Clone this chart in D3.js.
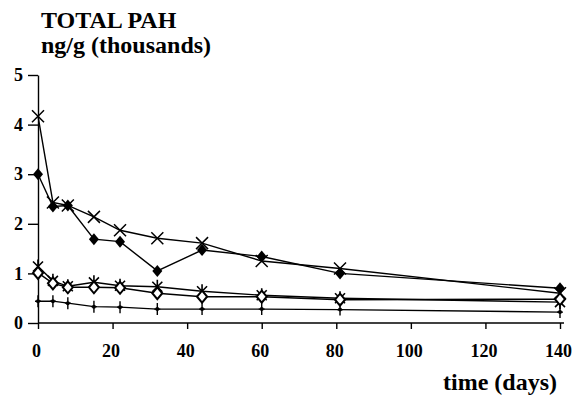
<!DOCTYPE html>
<html>
<head>
<meta charset="utf-8">
<script src="https://cdn.jsdelivr.net/npm/d3@7"></script>
<style>
  body { margin: 0; background: #fff; }
  svg text { font-family: 'Liberation Serif', 'Times New Roman', serif; font-weight: bold; fill: #000; }
</style>
</head>
<body>
<div id="chart"></div>
<script>
// sampling days
var days = [0, 4, 8, 15, 22, 32, 44, 60, 81, 140];

// total PAH, ng/g (thousands)
var crossVals    = [4.17, 2.43, 2.37, 2.14, 1.87, 1.71, 1.61, 1.25, 1.10, 0.60];
var diamondVals  = [3.00, 2.35, 2.37, 1.69, 1.64, 1.05, 1.47, 1.34, 1.00, 0.70];
var starVals     = [1.14, 0.85, 0.74, 0.82, 0.75, 0.73, 0.64, 0.56, 0.50, 0.42];
var openVals     = [1.01, 0.80, 0.72, 0.72, 0.71, 0.60, 0.53, 0.53, 0.47, 0.48];
var plusVals     = [0.44, 0.44, 0.40, 0.33, 0.32, 0.28, 0.28, 0.28, 0.27, 0.22];

var xTicks = [0, 20, 40, 60, 80, 100, 120, 140];
var yTicks = [0, 1, 2, 3, 4, 5];

const dims = { width: 575, height: 396, left: 38, right: 560, top: 75, bottom: 323 };
const serif = "'Liberation Serif', 'Times New Roman', serif";

const svg = d3.select('#chart').append('svg')
  .attr('width', dims.width)
  .attr('height', dims.height);

const x = d3.scaleLinear().domain([0, 140]).range([dims.left, dims.right]);
const y = d3.scaleLinear().domain([0, 5]).range([dims.bottom, dims.top]);

// axes
const xAxis = svg.append('g')
  .attr('transform', `translate(0,${dims.bottom})`)
  .call(d3.axisBottom(x).tickValues(xTicks).tickFormat(d3.format('d'))
    .tickSize(6).tickPadding(15).tickSizeOuter(0));
const yAxis = svg.append('g')
  .attr('transform', `translate(${dims.left},0)`)
  .call(d3.axisLeft(y).tickValues(yTicks).tickFormat(d3.format('d'))
    .tickSize(10).tickPadding(5).tickSizeOuter(0));

[xAxis, yAxis].forEach(function(g) {
  g.attr('font-family', serif);
  g.selectAll('path, line').attr('stroke', '#000').attr('stroke-width', 1.4);
  g.selectAll('text')
    .style('font-family', serif)
    .style('font-weight', 'bold')
    .style('font-size', '18px')
    .attr('fill', '#000');
});
xAxis.selectAll('.tick text').attr('dx', -2);
xAxis.select('.domain').attr('d', `M${dims.left},0H${dims.right + 4}`);

// titles
svg.append('text').attr('x', 41).attr('y', 28).style('font-size', '24px').text('TOTAL PAH');
svg.append('text').attr('x', 41).attr('y', 53).style('font-size', '24px').text('ng/g (thousands)');
svg.append('text').attr('x', 557).attr('y', 390).attr('text-anchor', 'end')
  .style('font-size', '24px').text('time (days)');

const line = d3.line()
  .x(function(d, i) { return x(days[i]); })
  .y(function(d) { return y(d); });

const series = [
  { vals: crossVals, mark: 'cross' },
  { vals: diamondVals, mark: 'diamond' },
  { vals: starVals, mark: 'star' },
  { vals: openVals, mark: 'open' },
  { vals: plusVals, mark: 'plus' }
];

series.forEach(function(s) {
  svg.append('path')
    .datum(s.vals)
    .attr('d', line)
    .attr('fill', 'none')
    .attr('stroke', '#000')
    .attr('stroke-width', 1.4);
});

function drawMark(g, kind) {
  if (kind === 'cross') {
    g.append('path').attr('d', 'M-6,-6L6,6M-6,6L6,-6')
      .attr('stroke', '#000').attr('stroke-width', 1.5).attr('fill', 'none');
  } else if (kind === 'diamond') {
    g.append('path').attr('d', 'M0,-6L5,0L0,6L-5,0Z').attr('fill', '#000');
  } else if (kind === 'star') {
    g.append('path').attr('d', 'M-5,-5L5,5M-5,5L5,-5M0,-7L0,7')
      .attr('stroke', '#000').attr('stroke-width', 1.6).attr('fill', 'none');
  } else if (kind === 'open') {
    g.append('path').attr('d', 'M0,-6L5,0L0,6L-5,0Z')
      .attr('fill', '#fff').attr('stroke', '#000').attr('stroke-width', 2);
  } else if (kind === 'plus') {
    g.append('path').attr('d', 'M0,-6L0,6M-3,0L3,0')
      .attr('stroke', '#000').attr('stroke-width', 1.4).attr('fill', 'none');
    g.append('circle').attr('r', 2).attr('fill', '#000');
  }
}

series.forEach(function(s) {
  svg.append('g').selectAll('g')
    .data(s.vals)
    .enter().append('g')
    .attr('transform', function(d, i) { return `translate(${x(days[i])},${y(d)})`; })
    .each(function() { drawMark(d3.select(this), s.mark); });
});
</script>
</body>
</html>
